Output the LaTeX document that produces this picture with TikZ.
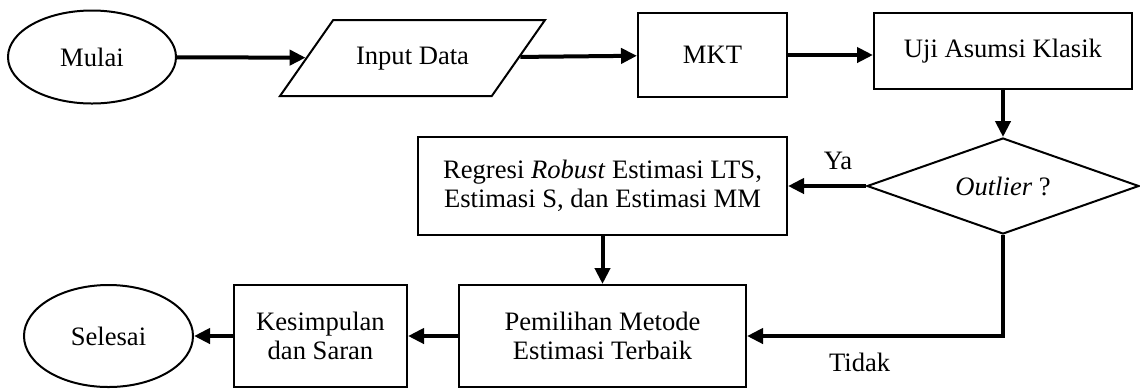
\documentclass[tikz,border=0pt]{standalone}
\usepackage{fontspec}
\setmainfont{Liberation Serif}
\usepackage{tikz}
\usetikzlibrary{arrows.meta}
\usetikzlibrary{shapes.geometric,positioning}

\begin{document}
\begin{tikzpicture}[>={Triangle[length=8pt,width=7.5pt]},line width=1pt,
                        font=\fontsize{13.3}{14.5}\selectfont,
                        term node/.style={ellipse,draw,inner sep=0pt},
                        io node/.style={trapezium,draw,trapezium left angle=55,trapezium right angle=125,
                                        trapezium stretches body=true,inner xsep=0pt,inner ysep=12.75pt,
                                        text height=9.5pt,text depth=3pt,minimum width=132.5pt},
                        main node/.style={rectangle,draw,align=center,inner sep=0pt},
                        decision node/.style={diamond,draw,inner sep=0pt,minimum width=136pt,minimum height=48pt,aspect=2.8},
                        flow/.style={->,line width=2pt}]

      \useasboundingbox (0,0) rectangle (570pt,-194pt);

      \node[term node,minimum width=84pt,minimum height=46.5pt] (mulai) at (46pt,-28.5pt) {Mulai};
      \node[io node] (input) [right of=mulai,node distance=160.25pt,yshift=-0.5pt] {Input Data};
      \node[main node,minimum width=74.5pt,minimum height=42pt] (mkt) [right of=input,node distance=150pt,yshift=1.5pt] {MKT};
      \node[main node,minimum width=129pt,minimum height=38pt] (uji) [right of=mkt,node distance=145.25pt,yshift=2pt] {Uji Asumsi Klasik};
      \node[decision node] (outlier) [below of=uji,node distance=67.5pt] {\textit{Outlier} ?};
      \node[main node,minimum width=184.5pt,minimum height=49pt] (robust) [left of=outlier,node distance=200.25pt]
        {Regresi \textit{Robust} Estimasi LTS,\\Estimasi S, dan Estimasi MM};
      \node[main node,minimum width=143.5pt,minimum height=51pt] (pilih) [below of=robust,node distance=75pt]
        {Pemilihan Metode\\Estimasi Terbaik};
      \node[main node,minimum width=86.5pt,minimum height=51pt] (simpul) [left of=pilih,node distance=141pt]
        {Kesimpulan\\dan Saran};
      \node[term node,minimum width=84.5pt,minimum height=51pt] (selesai) [left of=simpul,node distance=106pt] {Selesai};

      \draw[flow] (mulai) -- (input);
      \draw[flow] (input) -- (mkt);
      \draw[flow] (mkt.east) -- (mkt.east -| uji.west);
      \draw[flow] (uji) -- (outlier);
      \draw[flow] (outlier) -- node[above,pos=0.36,yshift=4pt] {Ya} (robust);
      \draw[flow] (robust) -- (pilih);
      \draw[flow] (outlier.south) |- node[below,pos=0.78,yshift=-4pt] {Tidak} (pilih.east);
      \draw[flow] (pilih) -- (simpul);
      \draw[flow] (simpul) -- (selesai);
    \end{tikzpicture}
\end{document}
